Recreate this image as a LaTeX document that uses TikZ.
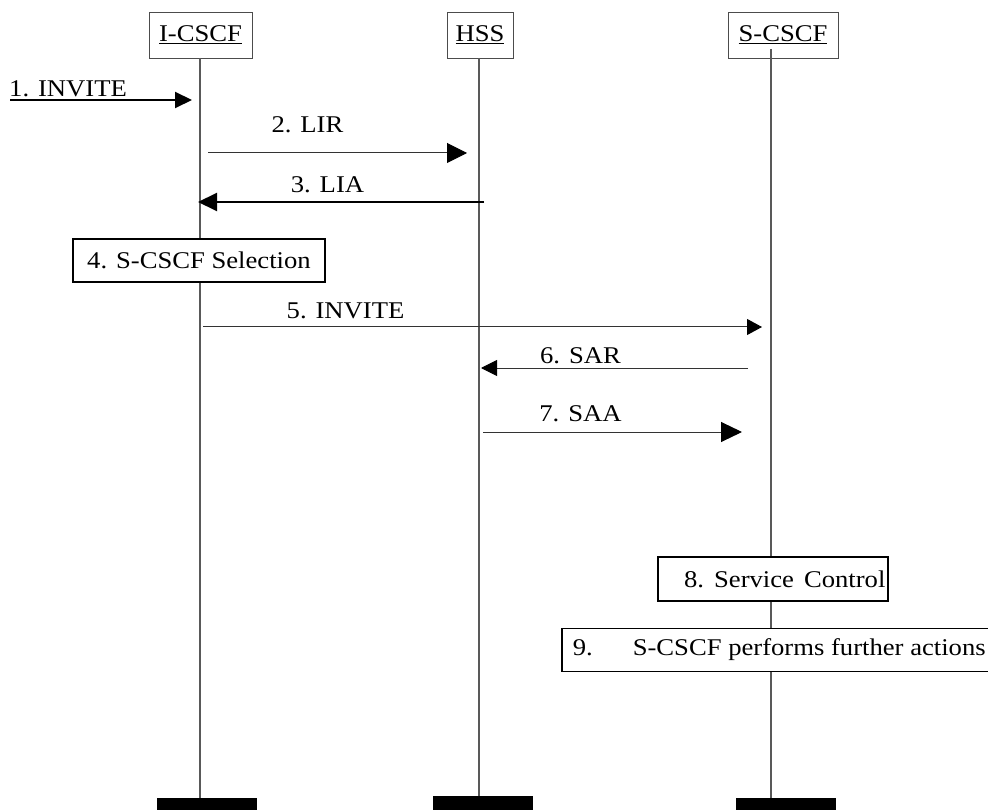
\documentclass[tikz,border=0pt]{standalone}
\usepackage{fontspec}
\setmainfont{Liberation Serif}[FakeStretch=1.11]
\usetikzlibrary{arrows.meta}
\begin{document}
\begin{tikzpicture}[x=1pt,y=-1pt, font=\fontsize{24}{28}\selectfont,
  hdr/.style={draw=black!70, line width=0.9pt, minimum height=46pt, inner sep=0pt},
  act/.style={draw=black, line width=1.6pt, fill=white, inner sep=0pt, minimum height=43pt},
  life/.style={draw=black!65, line width=1.1pt},
  bar/.style={fill=black, inner sep=0pt, minimum width=100pt},
  msg/.style={draw=black!80, line width=1pt},
  msgb/.style={draw=black, line width=2pt},
  lbl/.style={inner sep=0pt, anchor=base}]
\useasboundingbox (0,0) rectangle (988,810);
\clip (0,0) rectangle (988,810);

% headers
\node[hdr, minimum width=103pt] (icscf) at (200.5,35) {\underline{I-CSCF}};
\node[hdr, minimum width=66pt]  (hss)   at (480,35)   {\underline{HSS}};
\node[hdr, minimum width=110pt] (scscf) at (783,35)   {\underline{S-CSCF}};

% bottom bars
\node[bar, minimum height=12pt] (icscfbar) at (207,804) {};
\node[bar, minimum height=14pt] (hssbar)   at (483,803) {};
\node[bar, minimum height=12pt] (scscfbar) at (786,804) {};

% lifelines
\coordinate (lI0) at (200,58);  \coordinate (lI1) at (200,798);
\coordinate (lH0) at (479,58);  \coordinate (lH1) at (479,796);
\coordinate (lS0) at (771,49);  \coordinate (lS1) at (771,798);
\draw[life] (lI0) -- (lI1);
\draw[life] (lH0) -- (lH1);
\draw[life] (lS0) -- (lS1);

% 1. INVITE
\coordinate (m1a) at (10,100);  \coordinate (m1b) at (192,100);
\draw[msgb, -{Triangle[length=17pt,width=16pt,color=black]}] (m1a) -- (m1b);
\node[lbl, anchor=base west] (t1) at (9,97) {1. INVITE};

% 2. LIR
\coordinate (m2a) at (208,153); \coordinate (m2b) at (467,153);
\draw[msg, -{Triangle[length=20pt,width=20pt,color=black]}] (m2a) -- (m2b);
\node[lbl] (t2) at (307.5,133) {2. LIR};

% 3. LIA
\coordinate (m3a) at (484,202); \coordinate (m3b) at (198,202);
\draw[msgb, -{Triangle[length=19pt,width=18pt,color=black]}] (m3a) -- (m3b);
\node[lbl] (t3) at (327.5,193) {3. LIA};

% 4. box
\node[act, minimum width=252pt] (s4) at (199,260.5) {4. S-CSCF Selection};

% 5. INVITE
\coordinate (m5a) at (203,327); \coordinate (m5b) at (762,327);
\draw[msg, -{Triangle[length=15pt,width=16pt,color=black]}] (m5a) -- (m5b);
\node[lbl] (t5) at (345.5,319) {5. INVITE};

% 6. SAR
\coordinate (m6a) at (748,368); \coordinate (m6b) at (481,368);
\draw[msg, -{Triangle[length=16pt,width=16pt,color=black]}] (m6a) -- (m6b);
\node[lbl] (t6) at (580.5,363) {6. SAR};

% 7. SAA
\coordinate (m7a) at (483,432); \coordinate (m7b) at (742,432);
\draw[msg, -{Triangle[length=21pt,width=20pt,color=black]}] (m7a) -- (m7b);
\node[lbl] (t7) at (580.5,421) {7. SAA};

% 8. Service Control
\node[act, anchor=west, minimum width=230pt, minimum height=44pt] (s8) at (657,579)
  {\hspace{24pt}8.\hspace{10pt}Service\hspace{10pt}Control\hspace{4pt}};

% 9. further actions
\node[act, anchor=west, minimum width=430pt, inner xsep=11pt] (s9) at (561,650)
  {9.\hspace{40pt}S-CSCF performs further actions};
\end{tikzpicture}
\end{document}
